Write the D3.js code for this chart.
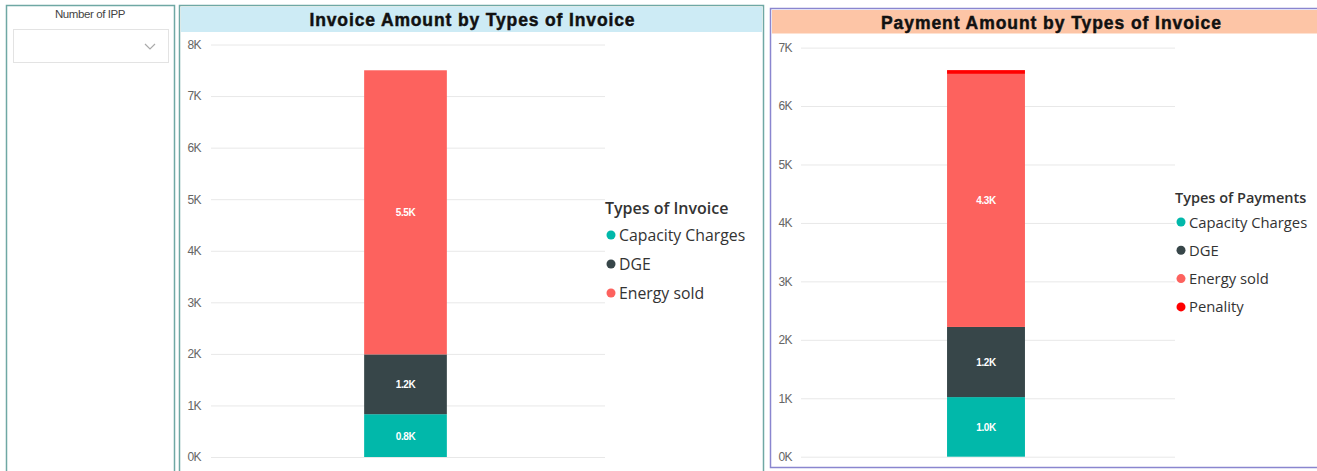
<!DOCTYPE html>
<html>
<head>
<meta charset="utf-8">
<script src="https://cdn.jsdelivr.net/npm/d3@7"></script>
<style>
  body { margin: 0; background: #fff; }
  svg { display: block; }
</style>
</head>
<body>
<svg id="chart" width="1317" height="471"></svg>
<script>
// invoice chart data
var invoiceTypes = ["Capacity Charges", "DGE", "Energy sold"];
var invoiceValues = [830, 1160, 5510];
var invoiceTicks = [0, 1000, 2000, 3000, 4000, 5000, 6000, 7000, 8000];

// payment chart data
var paymentTypes = ["Capacity Charges", "DGE", "Energy sold", "Penality"];
var paymentValues = [1020, 1200, 4330, 65];
var paymentTicks = [0, 1000, 2000, 3000, 4000, 5000, 6000, 7000];

var typeColors = {
    "Capacity Charges": "#01b8aa",
    "DGE": "#374649",
    "Energy sold": "#fd625e",
    "Penality": "#ff0000"
};

var svg = d3.select("#chart");
var fontFam = "'Open Sans', 'Noto Sans', sans-serif";

// ---- slicer panel on the left ----
svg.append("rect")
    .attr("x", 6.5).attr("y", 5.5).attr("width", 168).attr("height", 480)
    .attr("fill", "#fff").attr("stroke", "#6fa8a4").attr("stroke-width", 1.5);
svg.append("text")
    .attr("x", 90).attr("y", 18)
    .attr("text-anchor", "middle")
    .style("font-family", "'Liberation Sans', Arial, sans-serif")
    .style("font-size", "11.5px").style("letter-spacing", "-0.4px")
    .attr("fill", "#444")
    .text("Number of IPP");
svg.append("rect")
    .attr("x", 13.5).attr("y", 29.5).attr("width", 155).attr("height", 33)
    .attr("fill", "#fff").attr("stroke", "#e3e3e3");
svg.append("path")
    .attr("d", "M145,44 L150,49 L155,44")
    .attr("fill", "none").attr("stroke", "#aaa").attr("stroke-width", 1.2);

/**
 * Draws one panel with a single stacked bar and its legend
 */
function drawPanel(opt) {
    var g = svg.append("g");

    g.append("rect")
        .attr("x", opt.box[0]).attr("y", opt.box[1])
        .attr("width", opt.box[2]).attr("height", opt.box[3])
        .attr("fill", "#fff").attr("stroke", opt.border).attr("stroke-width", 1.5);

    g.append("rect")
        .attr("x", opt.titleBox[0]).attr("y", opt.titleBox[1])
        .attr("width", opt.titleBox[2]).attr("height", opt.titleBox[3])
        .attr("fill", opt.titleFill);

    g.append("text")
        .attr("x", opt.titleX)
        .attr("y", opt.titleBox[1] + 19)
        .attr("text-anchor", "middle")
        .attr("textLength", opt.titleLen)
        .attr("lengthAdjust", "spacing")
        .style("font-family", "'Liberation Sans', Arial, sans-serif")
        .style("font-weight", "bold")
        .style("font-size", "17.5px")
        .attr("fill", "#111")
        .attr("stroke", "#111").attr("stroke-width", 0.45)
        .text(opt.title);

    var y = d3.scaleLinear()
        .domain([0, d3.max(opt.ticks)])
        .range(opt.yRange);

    var x = d3.scaleBand()
        .domain(["all"])
        .range(opt.barRange)
        .paddingInner(0)
        .paddingOuter(opt.pad);

    var yAxis = d3.axisLeft(y)
        .tickValues(opt.ticks)
        .tickSize(-(opt.xRange[1] - opt.xRange[0]))
        .tickPadding(opt.xRange[0] - opt.labelX)
        .tickFormat(function(d) { return (d / 1000) + "K"; });

    var axisG = g.append("g")
        .attr("transform", "translate(" + opt.xRange[0] + ",0)")
        .call(yAxis);
    axisG.select(".domain").remove();
    axisG.selectAll(".tick line").attr("stroke", "#e8e8e8");
    axisG.selectAll(".tick text")
        .style("font-family", "'Liberation Sans', Arial, sans-serif")
        .style("font-size", "12px")
        .style("letter-spacing", "-0.6px")
        .attr("fill", "#666");

    // stack the values
    var row = {};
    opt.types.forEach(function(t, i) { row[t] = opt.values[i]; });
    var series = d3.stack().keys(opt.types)([row]);

    var segs = g.append("g").selectAll("g")
        .data(series)
        .enter().append("g");

    segs.append("rect")
        .attr("x", x("all"))
        .attr("width", x.bandwidth())
        .attr("y", function(d) { return y(d[0][1]); })
        .attr("height", function(d) { return y(d[0][0]) - y(d[0][1]); })
        .attr("fill", function(d) { return typeColors[d.key]; });

    segs.filter(function(d) { return d[0][1] - d[0][0] > 300; })
        .append("text")
        .attr("x", x("all") + x.bandwidth() / 2)
        .attr("y", function(d) { return (y(d[0][0]) + y(d[0][1])) / 2 + 4; })
        .attr("text-anchor", "middle")
        .style("font-family", "'Liberation Sans', Arial, sans-serif")
        .style("font-size", "10px")
        .style("font-weight", "bold")
        .style("letter-spacing", "-0.4px")
        .attr("fill", "#fff")
        .text(function(d) { return d3.format(".1f")((d[0][1] - d[0][0]) / 1000) + "K"; });

    // legend
    var lg = g.append("g").attr("transform", "translate(" + opt.legend[0] + "," + opt.legend[1] + ")");
    lg.append("text")
        .attr("x", 0).attr("y", 5)
        .style("font-family", fontFam)
        .style("font-size", opt.legendTitleSize + "px")
        .style("font-weight", "600")
        .attr("fill", "#333")
        .text(opt.legendTitle);

    var items = lg.selectAll(".item")
        .data(opt.types)
        .enter().append("g")
        .attr("class", "item")
        .attr("transform", function(d, i) { return "translate(0," + (opt.legendFirst + i * opt.legendStep) + ")"; });
    items.append("circle")
        .attr("cx", 6).attr("cy", 0).attr("r", 4.5)
        .attr("fill", function(d) { return typeColors[d]; });
    items.append("text")
        .attr("x", 14).attr("y", 5.5)
        .style("font-family", fontFam)
        .style("font-size", opt.legendSize + "px")
        .attr("fill", "#333")
        .text(function(d) { return d; });
}

drawPanel({
    box: [179.5, 5.5, 584, 480],
    border: "#6fa8a4",
    titleBox: [181, 7, 581, 25],
    titleFill: "#cdebf5",
    title: "Invoice Amount by Types of Invoice",
    titleX: 472,
    titleLen: 325,
    ticks: invoiceTicks,
    yRange: [457, 44.5],
    xRange: [211, 605],
    barRange: [207, 604],
    labelX: 201,
    pad: 1.9,
    types: invoiceTypes,
    values: invoiceValues,
    legend: [605, 209],
    legendTitle: "Types of Invoice",
    legendTitleSize: 16,
    legendSize: 15.8,
    legendFirst: 26,
    legendStep: 29
});

drawPanel({
    box: [770.5, 8.5, 560, 459],
    border: "#8a86cf",
    titleBox: [772, 10, 545, 23.5],
    titleFill: "#fdc5a6",
    title: "Payment Amount by Types of Invoice",
    titleX: 1051,
    titleLen: 340,
    ticks: paymentTicks,
    yRange: [456.7, 47.6],
    xRange: [801, 1175],
    barRange: [799, 1173],
    labelX: 792,
    pad: 1.9,
    types: paymentTypes,
    values: paymentValues,
    legend: [1175, 198],
    legendTitle: "Types of Payments",
    legendTitleSize: 14.5,
    legendSize: 14.8,
    legendFirst: 24,
    legendStep: 28.3
});
</script>
</body>
</html>
